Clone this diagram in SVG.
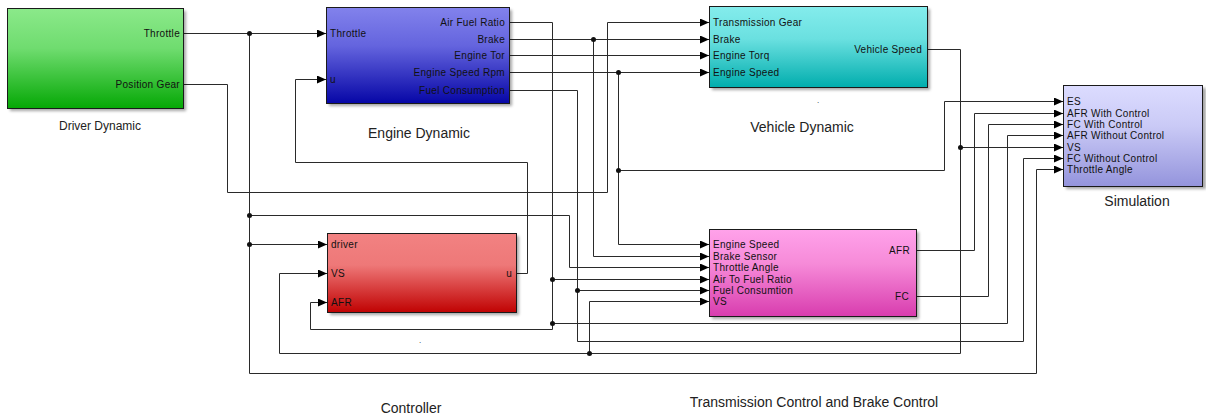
<svg xmlns="http://www.w3.org/2000/svg" width="1206" height="417" viewBox="0 0 1206 417">
<style>
.w{fill:none;stroke:#2a2a2a;stroke-width:1}
.a{marker-end:url(#ah)}
.blk{stroke:#1a1a1a;stroke-width:1}
.sh{fill:#000;opacity:0.35;filter:url(#blur)}
.p{font-family:"Liberation Sans",Arial,sans-serif;font-size:10px;fill:#111;letter-spacing:0.3px}
.r{text-anchor:end}
.t{font-family:"Liberation Sans",Arial,sans-serif;fill:#222;text-anchor:middle}
.j{fill:#111}
</style>
<defs>
<marker id="ah" markerUnits="userSpaceOnUse" markerWidth="9" markerHeight="8" refX="9" refY="4" orient="auto">
<path d="M0,0 L9,4 L0,8 z" fill="#000"/>
</marker>
<filter id="blur" x="-10%" y="-10%" width="120%" height="130%"><feGaussianBlur stdDeviation="1.5"/></filter>
<linearGradient id="gG" x1="0" y1="0" x2="0" y2="1"><stop offset="0" stop-color="#8be98a"/><stop offset="0.4" stop-color="#6fdc6f"/><stop offset="1" stop-color="#05a805"/></linearGradient>
<linearGradient id="gB" x1="0" y1="0" x2="0" y2="1"><stop offset="0" stop-color="#8282ec"/><stop offset="0.4" stop-color="#6464de"/><stop offset="1" stop-color="#0606a6"/></linearGradient>
<linearGradient id="gC" x1="0" y1="0" x2="0" y2="1"><stop offset="0" stop-color="#84ecec"/><stop offset="0.4" stop-color="#6ae0e0"/><stop offset="1" stop-color="#00adad"/></linearGradient>
<linearGradient id="gR" x1="0" y1="0" x2="0" y2="1"><stop offset="0" stop-color="#f28282"/><stop offset="0.4" stop-color="#ee7878"/><stop offset="1" stop-color="#c00202"/></linearGradient>
<linearGradient id="gM" x1="0" y1="0" x2="0" y2="1"><stop offset="0" stop-color="#ffa2ea"/><stop offset="0.4" stop-color="#f68ad8"/><stop offset="1" stop-color="#d83cae"/></linearGradient>
<linearGradient id="gL" x1="0" y1="0" x2="0" y2="1"><stop offset="0" stop-color="#dcdcff"/><stop offset="0.4" stop-color="#cacaf6"/><stop offset="1" stop-color="#9494dc"/></linearGradient>
</defs>
<rect width="1206" height="417" fill="#fff"/>

<g id="connectors">
<path class="w a" d="M183.5,33.5 H326"/>
<path class="w a" d="M249.5,33.5 V373.5 H1036.5 V169.5 H1063"/>
<path class="w a" d="M249.5,215.5 H569.5 V267.5 H709"/>
<path class="w a" d="M249.5,244.5 H327"/>
<path class="w a" d="M183.5,84.5 H227.5 V192.5 H607.5 V22.5 H709"/>
<path class="w a" d="M509.5,22.5 H552.5 V329.5 H310.5 V302.5 H327"/>
<path class="w a" d="M552.5,279.5 H709"/>
<path class="w a" d="M552.5,323.5 H1007.5 V135.5 H1063"/>
<path class="w a" d="M509.5,39.5 H709"/>
<path class="w a" d="M593.5,39.5 V256.5 H709"/>
<path class="w a" d="M509.5,55.5 H709"/>
<path class="w a" d="M509.5,72.5 H709"/>
<path class="w a" d="M618.5,72.5 V244.5 H709"/>
<path class="w a" d="M618.5,170.5 H944.5 V101.5 H1063"/>
<path class="w a" d="M509.5,90.5 H577.5 V341.5 H1023.5 V158.5 H1063"/>
<path class="w a" d="M577.5,290.5 H709"/>
<path class="w a" d="M927.5,49.5 H960.5 V353.5 H279.5 V273.5 H327"/>
<path class="w a" d="M960.5,147.5 H1063"/>
<path class="w a" d="M589.5,353.5 V301.5 H709"/>
<path class="w a" d="M516.5,273.5 H527.5 V162.5 H295.5 V79.5 H326"/>
<path class="w a" d="M916.5,250.5 H974.5 V113.5 H1063"/>
<path class="w a" d="M916.5,296.5 H988.5 V124.5 H1063"/>
<circle class="j" cx="249.5" cy="33.5" r="2.5"/>
<circle class="j" cx="249.5" cy="215.5" r="2.5"/>
<circle class="j" cx="249.5" cy="244.5" r="2.5"/>
<circle class="j" cx="552.5" cy="279.5" r="2.5"/>
<circle class="j" cx="552.5" cy="323.5" r="2.5"/>
<circle class="j" cx="593.5" cy="39.5" r="2.5"/>
<circle class="j" cx="618.5" cy="72.5" r="2.5"/>
<circle class="j" cx="618.5" cy="170.5" r="2.5"/>
<circle class="j" cx="577.5" cy="290.5" r="2.5"/>
<circle class="j" cx="960.5" cy="147.5" r="2.5"/>
<circle class="j" cx="589.5" cy="353.5" r="2.5"/>
</g>

<g id="driver-dynamic">
<rect class="sh" x="10" y="11" width="176" height="100"/>
<rect class="blk" x="7.5" y="8.5" width="176" height="100" fill="url(#gG)"/>
<text class="p r" x="180" y="37">Throttle</text>
<text class="p r" x="180" y="88">Position Gear</text>
<text class="t" x="100" y="130" font-size="12">Driver Dynamic</text>
</g>

<g id="engine-dynamic">
<rect class="sh" x="329" y="10" width="183" height="96"/>
<rect class="blk" x="326.5" y="7.5" width="183" height="96" fill="url(#gB)"/>
<text class="p" x="330" y="37">Throttle</text>
<text class="p" x="330" y="83">u</text>
<text class="p r" x="505" y="26">Air Fuel Ratio</text>
<text class="p r" x="505" y="43">Brake</text>
<text class="p r" x="505" y="59">Engine Tor</text>
<text class="p r" x="505" y="76">Engine Speed Rpm</text>
<text class="p r" x="505" y="94">Fuel Consumption</text>
<text class="t" x="419" y="138" font-size="14">Engine Dynamic</text>
</g>

<g id="vehicle-dynamic">
<rect class="sh" x="712" y="9" width="218" height="81"/>
<rect class="blk" x="709.5" y="6.5" width="218" height="81" fill="url(#gC)"/>
<text class="p" x="713" y="26">Transmission Gear</text>
<text class="p" x="713" y="43">Brake</text>
<text class="p" x="713" y="59">Engine Torq</text>
<text class="p" x="713" y="76">Engine Speed</text>
<text class="p r" x="922" y="53">Vehicle Speed</text>
<text class="t" x="818" y="103" font-size="8" fill="#888">.</text>
<text class="t" x="802" y="132" font-size="14">Vehicle Dynamic</text>
</g>

<g id="simulation">
<rect class="sh" x="1066" y="88" width="140" height="101"/>
<rect class="blk" x="1063.5" y="85.5" width="139" height="101" fill="url(#gL)"/>
<text class="p" x="1067" y="105">ES</text>
<text class="p" x="1067" y="117">AFR With Control</text>
<text class="p" x="1067" y="128">FC With Control</text>
<text class="p" x="1067" y="139">AFR Without Control</text>
<text class="p" x="1067" y="151">VS</text>
<text class="p" x="1067" y="162">FC Without Control</text>
<text class="p" x="1067" y="173">Throttle Angle</text>
<text class="t" x="1137" y="206" font-size="14">Simulation</text>
</g>

<g id="controller">
<rect class="sh" x="330" y="236" width="189" height="79"/>
<rect class="blk" x="327.5" y="233.5" width="189" height="79" fill="url(#gR)"/>
<text class="p" x="331" y="248">driver</text>
<text class="p" x="331" y="277">VS</text>
<text class="p" x="331" y="306">AFR</text>
<text class="p r" x="512" y="277">u</text>
<text class="t" x="420" y="343" font-size="8" fill="#888">.</text>
<text class="t" x="411" y="413" font-size="14">Controller</text>
</g>

<g id="transmission-control">
<rect class="sh" x="712" y="232" width="207" height="87"/>
<rect class="blk" x="709.5" y="229.5" width="207" height="87" fill="url(#gM)"/>
<text class="p" x="713" y="248">Engine Speed</text>
<text class="p" x="713" y="260">Brake Sensor</text>
<text class="p" x="713" y="271">Throttle Angle</text>
<text class="p" x="713" y="283">Air To Fuel Ratio</text>
<text class="p" x="713" y="294">Fuel Consumtion</text>
<text class="p" x="713" y="305">VS</text>
<text class="p r" x="910" y="254">AFR</text>
<text class="p r" x="909" y="300">FC</text>
<text class="t" x="814" y="407" font-size="14">Transmission Control and Brake Control</text>
</g>
</svg>
